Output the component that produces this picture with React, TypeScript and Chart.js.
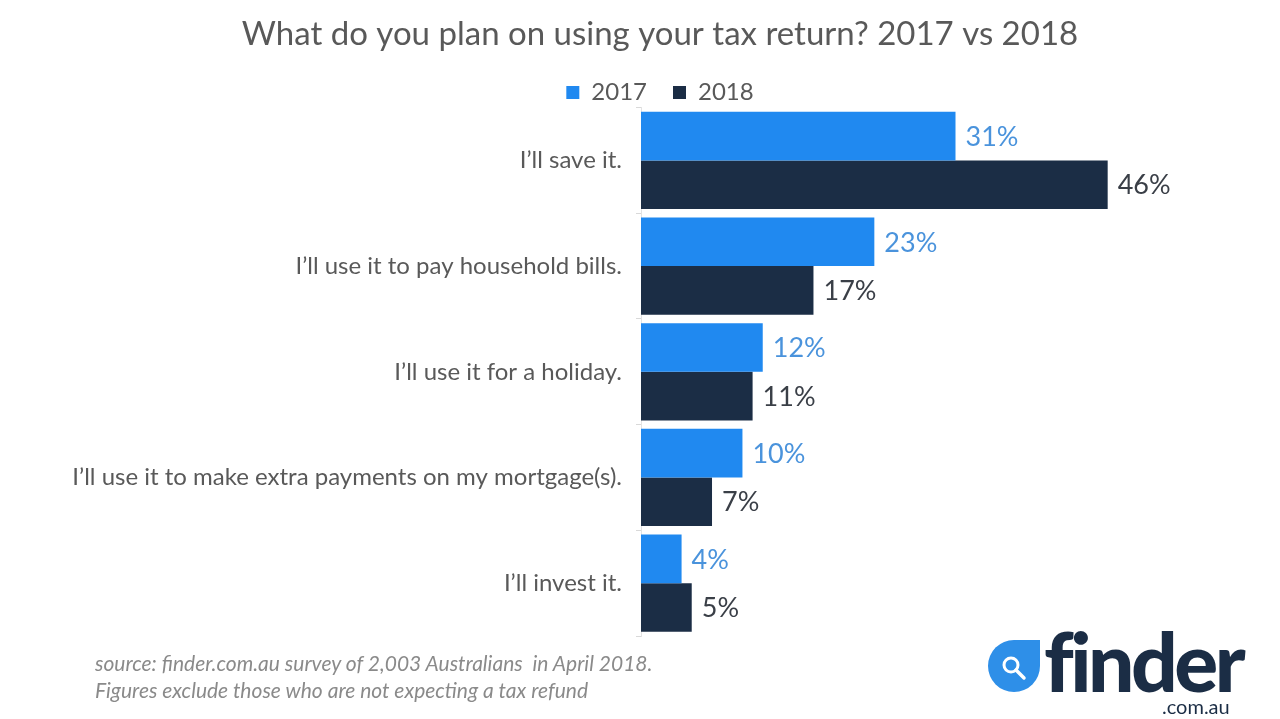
import React, { useEffect, useRef } from "react";
import { Chart, registerables } from "chart.js";

Chart.register(...registerables);

const categories = [
  "I\u2019ll save it.",
  "I\u2019ll use it to pay household bills.",
  "I\u2019ll use it for a holiday.",
  "I\u2019ll use it to make extra payments on my mortgage(s).",
  "I\u2019ll invest it.",
];
const values2017 = [31, 23, 12, 10, 4];
const values2018 = [46, 17, 11, 7, 5];
const seriesNames = ["2017", "2018"];
const titleText = "What do you plan on using your tax return? 2017 vs 2018";
const sourceLines = [
  "source: finder.com.au survey of 2,003 Australians  in April 2018.",
  "Figures exclude those who are not expecting a tax refund",
];

const BLUE = "#2089F0";
const NAVY = "#1B2D45";
const BLUE_LABEL = "#4A93DC";
const NAVY_LABEL = "#3A3F47";
const FONT = "Lato, 'Open Sans', sans-serif";

const valueLabels = {
  id: "valueLabels",
  afterDatasetsDraw(chart: any) {
    const ctx = chart.ctx;
    ctx.save();
    ctx.font = `27px ${FONT}`;
    ctx.textAlign = "left";
    ctx.textBaseline = "middle";
    chart.data.datasets.forEach((ds: any, di: number) => {
      const meta = chart.getDatasetMeta(di);
      ctx.fillStyle = di === 0 ? BLUE_LABEL : NAVY_LABEL;
      meta.data.forEach((bar: any, i: number) => {
        ctx.fillText(`${ds.data[i]}%`, bar.x + 10, bar.y + 1);
      });
    });
    ctx.restore();
  },
};

export default function App() {
  const canvasRef = useRef<HTMLCanvasElement | null>(null);

  useEffect(() => {
    if (!canvasRef.current) return;
    const chart = new Chart(canvasRef.current, {
      type: "bar",
      data: {
        labels: categories,
        datasets: [
          {
            label: seriesNames[0],
            data: values2017,
            backgroundColor: BLUE,
            categoryPercentage: 0.92,
            barPercentage: 1,
          },
          {
            label: seriesNames[1],
            data: values2018,
            backgroundColor: NAVY,
            categoryPercentage: 0.92,
            barPercentage: 1,
          },
        ],
      },
      options: {
        indexAxis: "y",
        animation: false,
        responsive: false,
        maintainAspectRatio: false,
        layout: { padding: { left: 50, right: 10, top: 0, bottom: 83 } },
        scales: {
          x: {
            display: false,
            min: 0,
            max: 62,
          },
          y: {
            grid: {
              drawOnChartArea: false,
              color: "#d9d9d9",
              tickLength: 5,
              offset: true,
            },
            border: { display: true, color: "#e3e3e3" },
            ticks: {
              color: "#595959",
              font: { family: FONT, size: 24 },
              padding: 14,
            },
            afterFit(scale: any) {
              scale.width = 591;
            },
          },
        },
        plugins: {
          title: {
            display: true,
            text: titleText,
            color: "#595959",
            font: { family: FONT, size: 33, weight: "normal", lineHeight: 1.2 },
            padding: { top: 15, bottom: 0 },
          },
          legend: {
            display: true,
            position: "top",
            maxHeight: 53,
            labels: {
              color: "#595959",
              font: { family: FONT, size: 24 },
              boxWidth: 13,
              boxHeight: 13,
              padding: 26,
            },
          },
          tooltip: { enabled: false },
        },
      } as any,
      plugins: [valueLabels],
    });
    return () => chart.destroy();
  }, []);

  return (
    <div
      style={{
        position: "fixed",
        left: 0,
        top: 0,
        width: 1280,
        height: 719,
        background: "#ffffff",
        overflow: "hidden",
      }}
    >
      <canvas
        ref={canvasRef}
        width={1280}
        height={719}
        style={{ position: "absolute", left: 0, top: 0, width: 1280, height: 719 }}
      />
      <div
        style={{
          position: "absolute",
          left: 95,
          top: 649,
          fontFamily: FONT,
          fontStyle: "italic",
          fontSize: 21,
          lineHeight: "27px",
          color: "#8a8a8a",
          whiteSpace: "pre",
        }}
      >
        {sourceLines.map((l, i) => (
          <div key={i}>{l}</div>
        ))}
      </div>
      <div style={{ position: "absolute", left: 986, top: 628, width: 290, height: 90 }}>
        <svg
          width={56}
          height={56}
          viewBox="0 0 56 56"
          style={{ position: "absolute", left: 0, top: 10 }}
        >
          <path
            d="M28 2 L54 2 L54 28 A26 26 0 1 1 28 2 Z"
            fill="#2E8FE8"
          />
          <circle cx={25} cy={27} r={7} fill="none" stroke="#ffffff" strokeWidth={3} />
          <line x1={30} y1={32} x2={38} y2={40} stroke="#ffffff" strokeWidth={3.5} strokeLinecap="round" />
        </svg>
        <div
          style={{
            position: "absolute",
            left: 58,
            top: -18,
            fontFamily: FONT,
            fontWeight: 900,
            fontSize: 82,
            letterSpacing: -3.5,
            color: NAVY,
            lineHeight: "100px",
          }}
        >
          finder
        </div>
        <div
          style={{
            position: "absolute",
            left: 176,
            top: 67,
            fontFamily: FONT,
            fontSize: 20,
            color: NAVY,
            lineHeight: "22px",
          }}
        >
          .com.au
        </div>
      </div>
    </div>
  );
}
